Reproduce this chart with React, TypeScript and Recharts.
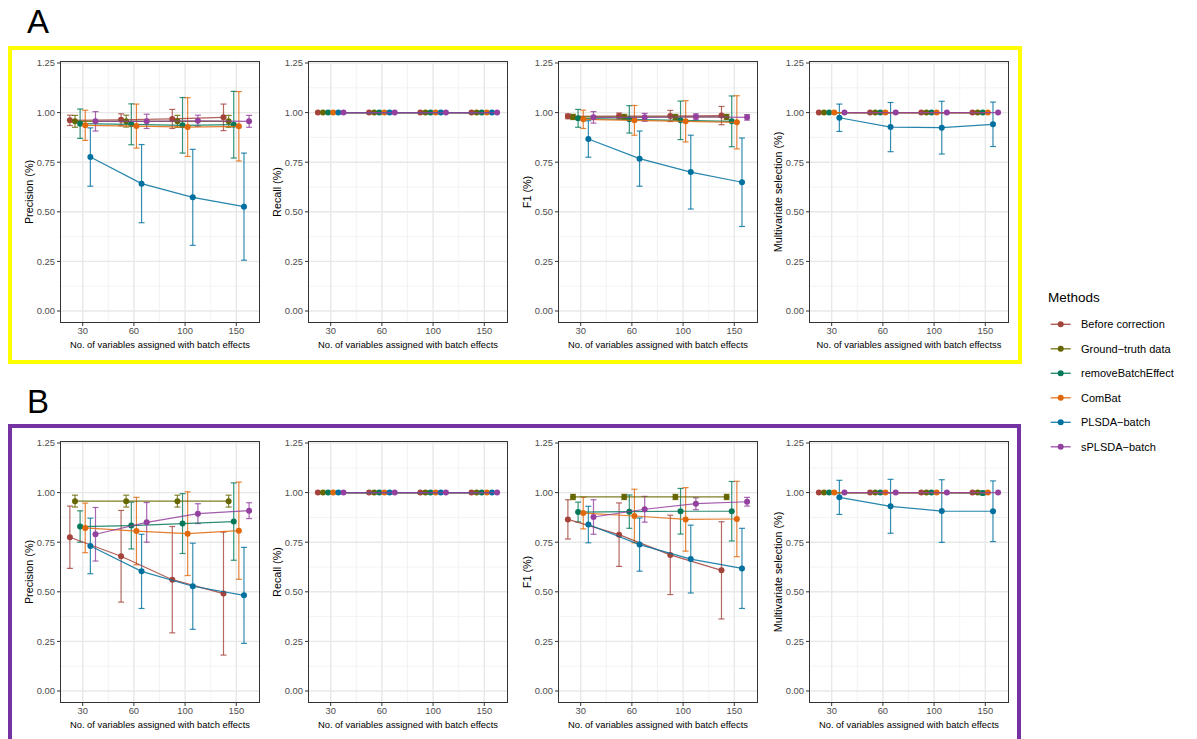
import { CartesianGrid, ErrorBar, Scatter, ScatterChart, XAxis, YAxis } from "recharts";

const CATEGORIES = ["30", "60", "100", "150"];
const METHODS = ["Before correction", "Ground\u2212truth data", "removeBatchEffect", "ComBat", "PLSDA\u2212batch", "sPLSDA\u2212batch"];
const COLORS = ["#A3433B", "#666600", "#04795A", "#E0680A", "#00709E", "#93409F"];

const Y_TICKS = [0, 0.25, 0.5, 0.75, 1, 1.25];
const Y_MINOR = [0.125, 0.375, 0.625, 0.875, 1.125];
const X_TICKS = [1, 2, 3, 4];
const X_MINOR = [1.5, 2.5, 3.5];
const DODGE = 0.1;

// rows follow METHODS, columns follow CATEGORIES
const A_PRECISION = [
  [0.961, 0.964, 0.968, 0.976],
  [0.956, 0.957, 0.956, 0.956],
  [0.944, 0.941, 0.936, 0.939],
  [0.936, 0.932, 0.927, 0.931],
  [0.776, 0.642, 0.573, 0.526],
  [0.956, 0.956, 0.959, 0.956],
];
const A_PRECISION_SD = [
  [0.026, 0.03, 0.048, 0.067],
  [0.03, 0.03, 0.03, 0.03],
  [0.074, 0.103, 0.14, 0.168],
  [0.076, 0.111, 0.148, 0.175],
  [0.147, 0.197, 0.242, 0.27],
  [0.049, 0.036, 0.028, 0.03],
];
const A_RECALL = [
  [1, 1, 1, 1],
  [1, 1, 1, 1],
  [1, 1, 1, 1],
  [1, 1, 1, 1],
  [1, 1, 1, 1],
  [1, 1, 1, 1],
];
const A_RECALL_SD = [
  [0, 0, 0, 0],
  [0, 0, 0, 0],
  [0, 0, 0, 0],
  [0, 0, 0, 0],
  [0, 0, 0, 0],
  [0, 0, 0, 0],
];
const A_F1 = [
  [0.981, 0.983, 0.983, 0.985],
  [0.978, 0.978, 0.978, 0.978],
  [0.971, 0.966, 0.961, 0.956],
  [0.966, 0.961, 0.956, 0.951],
  [0.867, 0.768, 0.7, 0.649],
  [0.976, 0.976, 0.979, 0.976],
];
const A_F1_SD = [
  [0.012, 0.015, 0.028, 0.046],
  [0.013, 0.013, 0.013, 0.013],
  [0.045, 0.069, 0.097, 0.128],
  [0.046, 0.075, 0.104, 0.134],
  [0.092, 0.139, 0.186, 0.223],
  [0.029, 0.02, 0.015, 0.014],
];
const A_MULTI = [
  [1, 1, 1, 1],
  [1, 1, 1, 1],
  [1, 1, 1, 1],
  [1, 1, 1, 1],
  [0.974, 0.927, 0.924, 0.941],
  [1, 1, 1, 1],
];
const A_MULTI_SD = [
  [0, 0, 0, 0],
  [0, 0, 0, 0],
  [0, 0, 0, 0],
  [0, 0, 0, 0],
  [0.069, 0.124, 0.133, 0.112],
  [0, 0, 0, 0],
];

const B_PRECISION = [
  [0.775, 0.679, 0.561, 0.491],
  [0.957, 0.957, 0.957, 0.957],
  [0.829, 0.834, 0.844, 0.854],
  [0.822, 0.806, 0.793, 0.808],
  [0.731, 0.603, 0.528, 0.482],
  [0.79, 0.85, 0.894, 0.909],
];
const B_PRECISION_SD = [
  [0.157, 0.231, 0.268, 0.31],
  [0.03, 0.03, 0.03, 0.03],
  [0.079, 0.118, 0.151, 0.195],
  [0.125, 0.17, 0.211, 0.245],
  [0.14, 0.187, 0.217, 0.242],
  [0.135, 0.1, 0.05, 0.04],
];
const B_F1 = [
  [0.865, 0.788, 0.686, 0.608],
  [0.978, 0.978, 0.978, 0.978],
  [0.902, 0.904, 0.906, 0.906],
  [0.897, 0.882, 0.865, 0.867],
  [0.839, 0.738, 0.665, 0.618],
  [0.877, 0.916, 0.944, 0.954],
];
const B_F1_SD = [
  [0.099, 0.16, 0.2, 0.245],
  [0.013, 0.013, 0.013, 0.013],
  [0.05, 0.084, 0.115, 0.15],
  [0.08, 0.135, 0.16, 0.19],
  [0.092, 0.134, 0.171, 0.202],
  [0.087, 0.065, 0.03, 0.022],
];
const B_MULTI = [
  [1, 1, 1, 1],
  [1, 1, 1, 1],
  [1, 1, 1, 0.998],
  [1, 1, 1, 1],
  [0.976, 0.931, 0.907, 0.906],
  [1, 1, 1, 1],
];
const B_MULTI_SD = [
  [0, 0, 0, 0],
  [0, 0, 0, 0],
  [0, 0, 0, 0.01],
  [0, 0, 0, 0],
  [0.086, 0.136, 0.158, 0.153],
  [0, 0, 0, 0],
];

const FONT = "'Liberation Sans', Arial, Helvetica, sans-serif";
const X_TITLE = "No. of variables assigned with batch effects";

const AXIS_W = 55;
const TOP_PAD = 4;
const PLOT_W = 200;
const PLOT_H = 262;

function buildSeries(means: number[][], sds: number[][]) {
  return METHODS.map((_, i) =>
    means[i].map((v, g) => ({ x: g + 1 + (i - 2.5) * DODGE, y: v, err: sds[i][g] }))
  );
}

function YTitle(props: any) {
  const vb = props.viewBox || { x: 0, y: 0, width: 0, height: 0 };
  const cx = vb.x + 24;
  const cy = vb.y + vb.height / 2;
  return (
    <text x={cx} y={cy} transform={`rotate(-90 ${cx} ${cy})`} textAnchor="middle" dominantBaseline="central" fontSize={10.8} fill="#000" fontFamily={FONT}>
      {props.value}
    </text>
  );
}

function XTitle(props: any) {
  const vb = props.viewBox || { x: 0, y: 0, width: 0, height: 0 };
  return (
    <text x={vb.x + vb.width / 2} y={vb.y + 21} textAnchor="middle" dominantBaseline="central" fontSize={9.4} fill="#000" fontFamily={FONT}>
      {props.value}
    </text>
  );
}

const tickStyle = { fill: "#4D4D4D", fontSize: 9.4, fontFamily: FONT };

function Panel({ left, top, yLabel, xLabel, means, sds }: { left: number; top: number; yLabel: string; xLabel: string; means: number[][]; sds: number[][] }) {
  const series = buildSeries(means, sds);
  return (
    <div style={{ position: "absolute", left: left - AXIS_W, top: top - TOP_PAD }}>
      <ScatterChart width={AXIS_W + PLOT_W + 8} height={TOP_PAD + PLOT_H + 30} margin={{ top: TOP_PAD, right: 8, bottom: 0, left: 0 }}>
        <CartesianGrid horizontalValues={Y_MINOR} verticalValues={X_MINOR} stroke="#F0F0F0" strokeWidth={0.8} />
        <CartesianGrid horizontalValues={Y_TICKS} verticalValues={X_TICKS} stroke="#E8E8E8" strokeWidth={1.4} />
        <XAxis
          type="number"
          dataKey="x"
          domain={[0.557, 4.463]}
          ticks={X_TICKS}
          interval={0}
          allowDataOverflow
          tickFormatter={(v: number) => CATEGORIES[v - 1]}
          tick={tickStyle}
          tickLine={{ stroke: "#333" }}
          tickSize={3}
          tickMargin={1}
          axisLine={false}
          height={30}
          label={<XTitle value={xLabel} />}
        />
        <YAxis
          type="number"
          dataKey="y"
          domain={[-0.0605, 1.2601]}
          ticks={Y_TICKS}
          interval={0}
          allowDataOverflow
          tickFormatter={(v: number) => v.toFixed(2)}
          tick={tickStyle}
          tickLine={{ stroke: "#333" }}
          tickSize={3}
          tickMargin={2}
          axisLine={false}
          width={AXIS_W}
          label={<YTitle value={yLabel} />}
        />
        {series.map((pts, i) => (
          <Scatter
            key={METHODS[i]}
            name={METHODS[i]}
            data={pts}
            fill={COLORS[i]}
            line={{ stroke: COLORS[i], strokeWidth: 1.2, strokeOpacity: 0.85 }}
            lineType="joint"
            shape={(p: any) => <circle cx={p.cx} cy={p.cy} r={3} fill={COLORS[i]} />}
            isAnimationActive={false}
          >
            <ErrorBar dataKey="err" direction="y" width={3} stroke={COLORS[i]} strokeOpacity={0.8} strokeWidth={1.2} isAnimationActive={false} />
          </Scatter>
        ))}
      </ScatterChart>
      <div
        style={{
          position: "absolute",
          left: AXIS_W,
          top: TOP_PAD,
          width: PLOT_W,
          height: PLOT_H,
          border: "1px solid #333",
          boxSizing: "border-box",
          pointerEvents: "none",
        }}
      />
    </div>
  );
}

function MethodsLegend() {
  return (
    <svg width={157} height={190} style={{ position: "absolute", left: 1040, top: 280 }}>
      <text x={8} y={22} fontSize={13.5} fontFamily={FONT} fill="#000">Methods</text>
      {METHODS.map((m, i) => {
        const y = 44.3 + i * 24.5;
        return (
          <g key={m}>
            <line x1={10.7} x2={30.7} y1={y} y2={y} stroke={COLORS[i]} strokeWidth={1.4} strokeOpacity={0.85} />
            <circle cx={20.7} cy={y} r={3} fill={COLORS[i]} />
            <text x={41} y={y} dominantBaseline="central" fontSize={11} fontFamily={FONT} fill="#000">{m}</text>
          </g>
        );
      })}
    </svg>
  );
}

const PANEL_LEFTS = [60, 308.3, 558.3, 809.3];
const ROW_A_TOP = 60.7;
const ROW_B_TOP = 440.7;

export default function App() {
  return (
    <div style={{ position: "absolute", left: 0, top: 0, width: 1197, height: 739, background: "#fff", overflow: "hidden", fontFamily: FONT }}>
      <svg width={1197} height={739} style={{ position: "absolute", left: 0, top: 0 }}>
        <text x={27} y={33} fontSize={33} fontFamily={FONT} fill="#000">A</text>
        <text x={27} y={413} fontSize={33} fontFamily={FONT} fill="#000">B</text>
      </svg>
      <div style={{ position: "absolute", left: 8, top: 46, width: 1013.5, height: 318, border: "4px solid #FFFF00", boxSizing: "border-box" }} />
      <div style={{ position: "absolute", left: 8, top: 424, width: 1013, height: 340, border: "4px solid #7432A3", boxSizing: "border-box" }} />

      <Panel left={PANEL_LEFTS[0]} top={ROW_A_TOP} yLabel="Precision (%)" xLabel={X_TITLE} means={A_PRECISION} sds={A_PRECISION_SD} />
      <Panel left={PANEL_LEFTS[1]} top={ROW_A_TOP} yLabel="Recall (%)" xLabel={X_TITLE} means={A_RECALL} sds={A_RECALL_SD} />
      <Panel left={PANEL_LEFTS[2]} top={ROW_A_TOP} yLabel="F1 (%)" xLabel={X_TITLE} means={A_F1} sds={A_F1_SD} />
      <Panel left={PANEL_LEFTS[3]} top={ROW_A_TOP} yLabel="Multivariate selection (%)" xLabel={X_TITLE + "s"} means={A_MULTI} sds={A_MULTI_SD} />

      <Panel left={PANEL_LEFTS[0]} top={ROW_B_TOP} yLabel="Precision (%)" xLabel={X_TITLE} means={B_PRECISION} sds={B_PRECISION_SD} />
      <Panel left={PANEL_LEFTS[1]} top={ROW_B_TOP} yLabel="Recall (%)" xLabel={X_TITLE} means={A_RECALL} sds={A_RECALL_SD} />
      <Panel left={PANEL_LEFTS[2]} top={ROW_B_TOP} yLabel="F1 (%)" xLabel={X_TITLE} means={B_F1} sds={B_F1_SD} />
      <Panel left={PANEL_LEFTS[3]} top={ROW_B_TOP} yLabel="Multivariate selection (%)" xLabel={X_TITLE} means={B_MULTI} sds={B_MULTI_SD} />

      <MethodsLegend />
    </div>
  );
}
